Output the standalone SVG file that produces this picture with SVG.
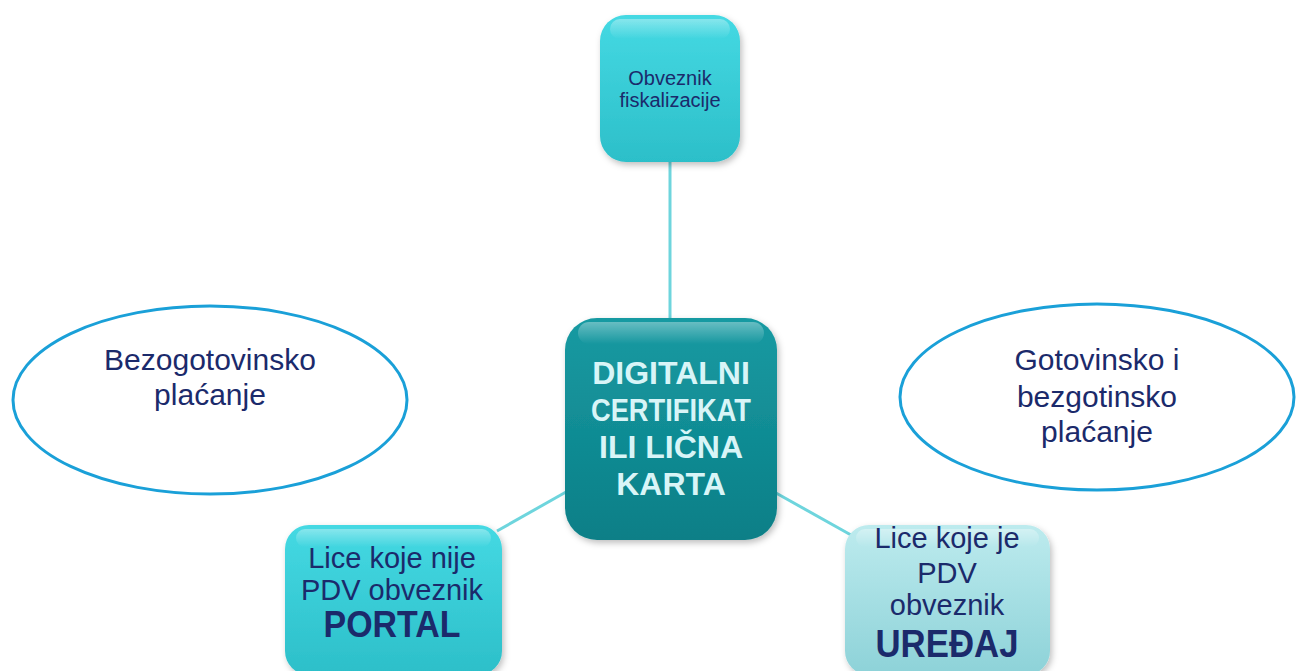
<svg xmlns="http://www.w3.org/2000/svg" width="1299" height="671" viewBox="0 0 1299 671">
<style>
.lbl{font-family:"Liberation Sans","DejaVu Sans",sans-serif;fill:#1B2A6B;text-anchor:middle}
.ctr{font-family:"Liberation Sans","DejaVu Sans",sans-serif;fill:#D8F5F7;text-anchor:middle;font-weight:bold;font-size:32px}
.conn{stroke:#6ED5DD;stroke-width:3;fill:none}
.ell{fill:#fff;stroke:#1AA0D8;stroke-width:3}
.hl{fill:url(#hl)}
</style>
<defs>
<linearGradient id="gTop" x1="0" y1="0" x2="0" y2="1"><stop offset="0" stop-color="#45D9E3"/><stop offset="1" stop-color="#2CBFC9"/></linearGradient>
<linearGradient id="gCtr" x1="0" y1="0" x2="0" y2="1"><stop offset="0" stop-color="#189AA2"/><stop offset="1" stop-color="#0A7F87"/></linearGradient>
<linearGradient id="gRight" x1="0" y1="0" x2="0" y2="1"><stop offset="0" stop-color="#BDEBEE"/><stop offset="1" stop-color="#8DD2D8"/></linearGradient>
<linearGradient id="hl" x1="0" y1="0" x2="0" y2="1"><stop offset="0" stop-color="#fff" stop-opacity="0.35"/><stop offset="1" stop-color="#fff" stop-opacity="0"/></linearGradient>
<filter id="sh" x="-10%" y="-10%" width="130%" height="130%"><feDropShadow dx="2" dy="3" stdDeviation="3" flood-color="#000" flood-opacity="0.25"/></filter>
</defs>
<g id="connectors">
<line class="conn" x1="670" y1="162" x2="670" y2="318"/>
<line class="conn" x1="566" y1="492" x2="497" y2="531"/>
<line class="conn" x1="776" y1="493" x2="851" y2="535"/>
</g>
<g id="node-top">
<rect x="600" y="15" width="140" height="147" rx="26" fill="url(#gTop)" filter="url(#sh)"/>
<rect x="610" y="19" width="120" height="20" rx="10" class="hl"/>
<text class="lbl" font-size="20" x="670" y="85">Obveznik</text>
<text class="lbl" font-size="20" x="670" y="107">fiskalizacije</text>
</g>
<g id="node-center">
<rect x="565" y="318" width="212" height="222" rx="32" fill="url(#gCtr)" filter="url(#sh)"/>
<rect x="578" y="322" width="186" height="22" rx="11" class="hl"/>
<text class="ctr" x="671" y="384">DIGITALNI</text>
<text class="ctr" x="671" y="421" textLength="160" lengthAdjust="spacingAndGlyphs">CERTIFIKAT</text>
<text class="ctr" x="671" y="458">ILI LIČNA</text>
<text class="ctr" x="671" y="495">KARTA</text>
</g>
<g id="node-portal">
<rect x="285" y="525" width="217" height="150" rx="24" fill="url(#gTop)" filter="url(#sh)"/>
<rect x="296" y="529" width="195" height="18" rx="9" class="hl"/>
<text class="lbl" font-size="29" x="392" y="568">Lice koje nije</text>
<text class="lbl" font-size="29" x="392" y="600">PDV obveznik</text>
<text class="lbl" font-size="37" font-weight="bold" x="392" y="637" textLength="137" lengthAdjust="spacingAndGlyphs">PORTAL</text>
</g>
<g id="node-uredjaj">
<rect x="845" y="525" width="205" height="150" rx="24" fill="url(#gRight)" filter="url(#sh)"/>
<rect x="856" y="529" width="183" height="18" rx="9" class="hl"/>
<text class="lbl" font-size="29" x="947" y="548">Lice koje je</text>
<text class="lbl" font-size="29" x="947" y="583">PDV</text>
<text class="lbl" font-size="29" x="947" y="615">obveznik</text>
<text class="lbl" font-size="38" font-weight="bold" x="947" y="657" textLength="143" lengthAdjust="spacingAndGlyphs">UREĐAJ</text>
</g>
<g id="ellipse-left">
<ellipse class="ell" cx="210" cy="400" rx="197" ry="94"/>
<text class="lbl" font-size="30" x="210" y="370">Bezogotovinsko</text>
<text class="lbl" font-size="30" x="210" y="405">plaćanje</text>
</g>
<g id="ellipse-right">
<ellipse class="ell" cx="1097" cy="397" rx="197" ry="93"/>
<text class="lbl" font-size="30" x="1097" y="370">Gotovinsko i</text>
<text class="lbl" font-size="30" x="1097" y="407">bezgotinsko</text>
<text class="lbl" font-size="30" x="1097" y="442">plaćanje</text>
</g>
</svg>
